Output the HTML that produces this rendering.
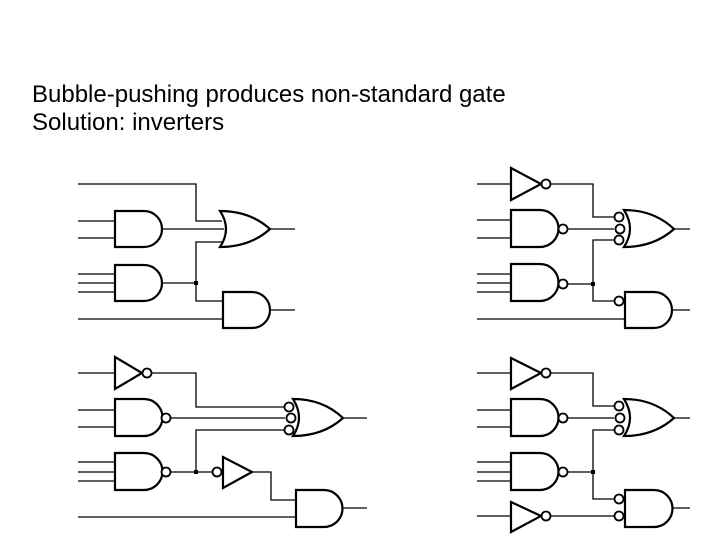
<!DOCTYPE html>
<html><head><style>
html,body{margin:0;padding:0;background:#fff;}
.t{position:absolute;left:32px;font-family:"Liberation Sans",sans-serif;font-size:24px;color:#000;line-height:1;}
</style></head><body>
<div style="position:relative;width:720px;height:540px;overflow:hidden;">
<div class="t" style="top:83px">Bubble-pushing produces non-standard gate</div>
<div class="t" style="top:111px">Solution: inverters</div>
<svg width="720" height="540" style="position:absolute;left:0;top:0" fill="none" stroke="#000">
<g stroke-width="1.3">
<path d="M78 184H196V221H222M78 221H115M78 238H115M162 229H224M196 283V242H222M78 274H115M78 283H115M78 292H115M162 283H196M196 283V301H223M78 319H223M270 229H295M270 310H295"/>
<path d="M78 373H115M152 373H196V407H285M78 410H115M78 427H115M171 418H285M196 472V430H285M78 462H115M78 472H115M78 481H115M171 472H212M252 472H271V500H296M78 517H296M343 418H367M342 508H367"/>
<path d="M477 184H511M550 184H593V217H614M477 220H511M477 238H511M567 229H614M593 284V240H614M477 274H511M477 283H511M477 292H511M567 284H593V301H614M477 319H625M674 229H690M672 310H690"/>
<path d="M477 373H511M550 373H593V406H614M477 410H511M477 427H511M567 418H614M593 472V430H614M477 462H511M477 472H511M477 481H511M567 472H593V499H614M477 516H511M550 516H614M674 418H690M672 508H690"/>
</g>
<g stroke-width="2.2">
<path d="M115 211H144A18 18 0 0 1 144 247H115Z"/>
<path d="M115 265H144A18 18 0 0 1 144 301H115Z"/>
<path d="M223 292H252A18 18 0 0 1 252 328H223Z"/>
<path d="M115 399H144A18.5 18.5 0 0 1 144 436H115Z"/>
<path d="M115 453H144A18.5 18.5 0 0 1 144 490H115Z"/>
<path d="M296 490H324A18.5 18.5 0 0 1 324 527H296Z"/>
<path d="M511 210H540A18.5 18.5 0 0 1 540 247H511Z"/>
<path d="M511 264H540A18.5 18.5 0 0 1 540 301H511Z"/>
<path d="M625 292H654A18 18 0 0 1 654 328H625Z"/>
<path d="M511 399H540A18.5 18.5 0 0 1 540 436H511Z"/>
<path d="M511 453H540A18.5 18.5 0 0 1 540 490H511Z"/>
<path d="M625 490H654A18.5 18.5 0 0 1 654 527H625Z"/>
<path d="M220 211Q250 211 270 229Q250 247 220 247Q232 229 220 211Z"/>
<path d="M293 399Q323 399 343 418Q323 436 293 436Q305 418 293 399Z"/>
<path d="M624 210Q654 210 674 229Q654 247 624 247Q636 229 624 210Z"/>
<path d="M624 399Q654 399 674 418Q654 436 624 436Q636 418 624 399Z"/>
<path d="M115 357L142 373L115 389Z"/>
<path d="M252 472L223 457L223 488Z"/>
<path d="M511 168L541 184L511 200Z"/>
<path d="M511 358L541 373L511 389Z"/>
<path d="M511 502L541 516L511 532Z"/>
</g>
<g stroke-width="1.8" fill="#fff">
<circle cx="147" cy="373" r="4.5"/>
<circle cx="166" cy="418" r="4.5"/>
<circle cx="166" cy="472" r="4.5"/>
<circle cx="289" cy="407" r="4.5"/>
<circle cx="291" cy="418" r="4.5"/>
<circle cx="289" cy="430" r="4.5"/>
<circle cx="217" cy="472" r="4.5"/>
<circle cx="546" cy="184" r="4.5"/>
<circle cx="563" cy="229" r="4.5"/>
<circle cx="563" cy="284" r="4.5"/>
<circle cx="619" cy="217" r="4.5"/>
<circle cx="620" cy="229" r="4.5"/>
<circle cx="619" cy="240" r="4.5"/>
<circle cx="619" cy="301" r="4.5"/>
<circle cx="546" cy="373" r="4.5"/>
<circle cx="563" cy="418" r="4.5"/>
<circle cx="563" cy="472" r="4.5"/>
<circle cx="619" cy="406" r="4.5"/>
<circle cx="620" cy="418" r="4.5"/>
<circle cx="619" cy="430" r="4.5"/>
<circle cx="619" cy="499" r="4.5"/>
<circle cx="619" cy="516" r="4.5"/>
<circle cx="546" cy="516" r="4.5"/>
</g>
<g fill="#000" stroke="none">
<rect x="194" y="281" width="4" height="4"/>
<rect x="194" y="470" width="4" height="4"/>
<rect x="591" y="282" width="4" height="4"/>
<rect x="591" y="470" width="4" height="4"/>
</g>
</svg>
</div>
</body></html>
